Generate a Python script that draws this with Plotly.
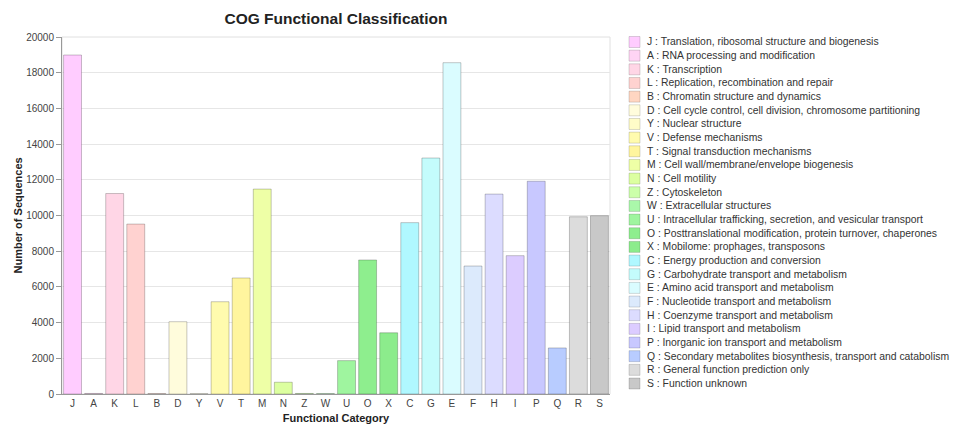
import plotly.graph_objects as go

categories = ["J", "A", "K", "L", "B", "D", "Y", "V", "T", "M", "N", "Z", "W",
              "U", "O", "X", "C", "G", "E", "F", "H", "I", "P", "Q", "R", "S"]
values = [18990, 30, 11230, 9520, 20, 4050, 10, 5170, 6500, 11480, 660, 30, 20,
          1870, 7510, 3430, 9600, 13220, 18560, 7170, 11200, 7750, 11920, 2580, 9930, 9990]
descriptions = [
    "Translation, ribosomal structure and biogenesis",
    "RNA processing and modification",
    "Transcription",
    "Replication, recombination and repair",
    "Chromatin structure and dynamics",
    "Cell cycle control, cell division, chromosome partitioning",
    "Nuclear structure",
    "Defense mechanisms",
    "Signal transduction mechanisms",
    "Cell wall/membrane/envelope biogenesis",
    "Cell motility",
    "Cytoskeleton",
    "Extracellular structures",
    "Intracellular trafficking, secretion, and vesicular transport",
    "Posttranslational modification, protein turnover, chaperones",
    "Mobilome: prophages, transposons",
    "Energy production and conversion",
    "Carbohydrate transport and metabolism",
    "Amino acid transport and metabolism",
    "Nucleotide transport and metabolism",
    "Coenzyme transport and metabolism",
    "Lipid transport and metabolism",
    "Inorganic ion transport and metabolism",
    "Secondary metabolites biosynthesis, transport and catabolism",
    "General function prediction only",
    "Function unknown",
]
colors = ["#FFCCFF", "#FFD4F4", "#FFD6E6", "#FFD2D0", "#FFD6C2", "#FFFCDC", "#FFFCC8",
          "#FFFBAE", "#FFF59E", "#EEFFA6", "#DCFFA0", "#CCFFAA", "#AAF8AA",
          "#9FF59F", "#8EEE8E", "#8CEC8C", "#B0F8FF", "#C4FCFC", "#DAFCFF", "#DCEAFC",
          "#DCDCFF", "#DCCCFF", "#C8C8FF", "#B8CCFF", "#DCDCDC", "#C8C8C8"]

W, H = 953, 424
ml, mr, mt, mb = 62, 343, 37, 30
pw, ph = W - ml - mr, H - mt - mb

fig = go.Figure(go.Bar(
    x=categories, y=values,
    marker=dict(color=colors, line=dict(color="rgba(0,0,0,0.22)", width=1)),
    showlegend=False,
))

shapes = []
annotations = []
x0_px, sw = 629, 11
y_start, step = 42, 13.66
for i, (c, d, col) in enumerate(zip(categories, descriptions, colors)):
    yc = y_start + i * step
    shapes.append(dict(
        type="rect", xref="paper", yref="paper",
        x0=(x0_px - ml) / pw, x1=(x0_px + sw - ml) / pw,
        y0=(H - mb - (yc - sw / 2)) / ph, y1=(H - mb - (yc + sw / 2)) / ph,
        fillcolor=col, line=dict(color="rgba(0,0,0,0.15)", width=1),
    ))
    annotations.append(dict(
        xref="paper", yref="paper", x=(645 - ml) / pw, y=(H - mb - yc) / ph,
        xanchor="left", yanchor="middle", showarrow=False,
        text=f"{c} : {d}", font=dict(size=10.4, color="#333333"),
    ))

# y-axis title as a rotated annotation
annotations.append(dict(
    xref="paper", yref="paper", x=(17 - ml) / pw, y=0.5,
    xanchor="center", yanchor="middle", showarrow=False, textangle=-90,
    text="<b>Number of Sequences</b>", font=dict(size=11, color="#222222"),
))

fig.update_layout(
    width=W, height=H,
    margin=dict(l=ml, r=mr, t=mt, b=mb, autoexpand=False),
    paper_bgcolor="white", plot_bgcolor="white",
    font=dict(family="Liberation Sans, Arial, sans-serif", color="#444444"),
    title=dict(text="<b>COG Functional Classification</b>", x=0.5, xref="paper",
               y=1 - 19 / H, yref="container", yanchor="middle",
               font=dict(size=15.5, color="#222222")),
    bargap=0.15,
    shapes=shapes,
    annotations=annotations,
)
fig.update_xaxes(
    automargin=False,
    showgrid=False, showline=True, linecolor="#999999", mirror=False,
    ticks="", tickfont=dict(size=10, color="#444444"),
    title=dict(text="<b>Functional Category</b>", font=dict(size=11, color="#222222")),
)
fig.update_yaxes(
    automargin=False,
    range=[0, 20000], dtick=2000, tickformat="d", showgrid=True, gridcolor="#E6E6E6",
    showline=True, linecolor="#999999", ticks="outside", ticklen=5, tickcolor="#999999",
    tickfont=dict(size=10, color="#444444"), zeroline=False,
)
fig.add_shape(type="rect", xref="paper", yref="paper", x0=0, x1=1, y0=0, y1=1,
              line=dict(color="#E0E0E0", width=1), layer="below")

fig.write_html("out.html", config={"displayModeBar": False},
               post_script="document.body.style.margin='0px';")
